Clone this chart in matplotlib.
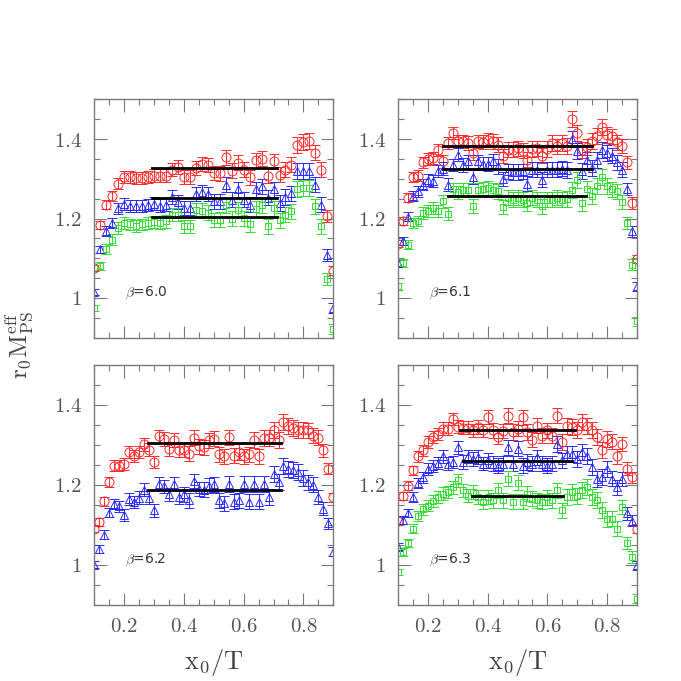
import matplotlib
matplotlib.use("Agg")
import matplotlib.pyplot as plt
from matplotlib.ticker import MultipleLocator, FixedLocator, FixedFormatter

plt.rcParams['mathtext.fontset'] = 'cm'
plt.rcParams['font.family'] = ['DejaVu Serif']

# ---------------- data ----------------
X41 = [0.10, 0.12, 0.14, 0.16, 0.18, 0.20, 0.22, 0.24, 0.26, 0.28,
       0.30, 0.32, 0.34, 0.36, 0.38, 0.40, 0.42, 0.44, 0.46, 0.48,
       0.50, 0.52, 0.54, 0.56, 0.58, 0.60, 0.62, 0.64, 0.66, 0.68,
       0.70, 0.72, 0.74, 0.76, 0.78, 0.80, 0.82, 0.84, 0.86, 0.88, 0.90]

X49 = [0.1000, 0.1167, 0.1333, 0.1500, 0.1667, 0.1833, 0.2000, 0.2167, 0.2333, 0.2500,
       0.2667, 0.2833, 0.3000, 0.3167, 0.3333, 0.3500, 0.3667, 0.3833, 0.4000, 0.4167,
       0.4333, 0.4500, 0.4667, 0.4833, 0.5000, 0.5167, 0.5333, 0.5500, 0.5667, 0.5833,
       0.6000, 0.6167, 0.6333, 0.6500, 0.6667, 0.6833, 0.7000, 0.7167, 0.7333, 0.7500,
       0.7667, 0.7833, 0.8000, 0.8167, 0.8333, 0.8500, 0.8667, 0.8833, 0.9000]

E41 = [0.008, 0.010, 0.012, 0.013, 0.014, 0.015, 0.015, 0.015, 0.015, 0.015,
       0.016, 0.016, 0.016, 0.017, 0.017, 0.017, 0.017, 0.018, 0.018, 0.018,
       0.018, 0.019, 0.019, 0.019, 0.019, 0.019, 0.019, 0.019, 0.019, 0.019,
       0.019, 0.019, 0.019, 0.019, 0.020, 0.020, 0.020, 0.019, 0.018, 0.015, 0.012]

E49 = [0.008, 0.010, 0.011, 0.012, 0.013, 0.014, 0.015, 0.015, 0.015, 0.016,
       0.016, 0.016, 0.016, 0.017, 0.017, 0.017, 0.017, 0.017, 0.018, 0.018,
       0.018, 0.018, 0.019, 0.019, 0.019, 0.019, 0.019, 0.019, 0.019, 0.019,
       0.019, 0.019, 0.019, 0.019, 0.020, 0.020, 0.020, 0.020, 0.020, 0.020,
       0.020, 0.020, 0.020, 0.019, 0.019, 0.018, 0.016, 0.014, 0.011]

# beta = 6.0
red_60 = [1.075, 1.184, 1.235, 1.257, 1.287, 1.304, 1.304, 1.302, 1.302, 1.304,
          1.308, 1.308, 1.308, 1.323, 1.330, 1.304, 1.304, 1.327, 1.338, 1.335,
          1.314, 1.314, 1.354, 1.320, 1.340, 1.323, 1.304, 1.346, 1.350, 1.308,
          1.344, 1.310, 1.323, 1.335, 1.386, 1.392, 1.394, 1.366, 1.323, 1.207, 1.069]
blue_60 = [1.015, 1.122, 1.169, 1.189, 1.226, 1.237, 1.232, 1.232, 1.232, 1.235,
           1.237, 1.232, 1.235, 1.254, 1.241, 1.226, 1.226, 1.262, 1.266, 1.262,
           1.243, 1.243, 1.285, 1.247, 1.273, 1.247, 1.235, 1.274, 1.281, 1.252,
           1.274, 1.239, 1.254, 1.264, 1.319, 1.320, 1.320, 1.285, 1.235, 1.109, 0.975]
green_60 = [0.975, 1.081, 1.123, 1.147, 1.176, 1.189, 1.185, 1.182, 1.185, 1.189,
            1.191, 1.189, 1.193, 1.210, 1.210, 1.180, 1.180, 1.222, 1.220, 1.215,
            1.197, 1.197, 1.233, 1.199, 1.222, 1.201, 1.185, 1.224, 1.233, 1.180,
            1.226, 1.195, 1.210, 1.218, 1.274, 1.276, 1.276, 1.231, 1.180, 1.048, 0.922]
fit_60 = [1.327, 1.251, 1.205]
fitx_60 = [0.292, 0.711]

# beta = 6.1
red_61 = [1.137, 1.193, 1.252, 1.304, 1.308, 1.341, 1.350, 1.352, 1.373, 1.344,
          1.390, 1.415, 1.394, 1.394, 1.390, 1.365, 1.394, 1.392, 1.398, 1.394,
          1.386, 1.358, 1.373, 1.373, 1.377, 1.371, 1.348, 1.375, 1.377, 1.358,
          1.375, 1.390, 1.382, 1.390, 1.382, 1.450, 1.415, 1.373, 1.380, 1.394,
          1.408, 1.430, 1.411, 1.407, 1.392, 1.383, 1.341, 1.239, 1.098]
blue_61 = [1.088, 1.143, 1.205, 1.256, 1.268, 1.285, 1.298, 1.294, 1.320, 1.325,
           1.285, 1.335, 1.361, 1.335, 1.344, 1.304, 1.344, 1.338, 1.338, 1.344,
           1.331, 1.299, 1.319, 1.317, 1.317, 1.319, 1.288, 1.323, 1.323, 1.298,
           1.323, 1.323, 1.323, 1.325, 1.323, 1.400, 1.369, 1.319, 1.348, 1.327,
           1.348, 1.373, 1.365, 1.358, 1.341, 1.323, 1.274, 1.168, 1.029]
green_61 = [1.029, 1.088, 1.134, 1.189, 1.193, 1.214, 1.218, 1.226, 1.220, 1.243,
            1.212, 1.274, 1.266, 1.272, 1.272, 1.232, 1.272, 1.274, 1.276, 1.272,
            1.268, 1.229, 1.252, 1.247, 1.252, 1.247, 1.239, 1.252, 1.247, 1.231,
            1.247, 1.247, 1.252, 1.247, 1.250, 1.272, 1.296, 1.239, 1.274, 1.256,
            1.281, 1.304, 1.281, 1.274, 1.268, 1.241, 1.189, 1.084, 0.941]
fit_61 = [1.382, 1.325, 1.257]
fitx_61 = [[0.249, 0.750], [0.249, 0.750], [0.267, 0.731]]

# beta = 6.2
red_62 = [1.090, 1.107, 1.159, 1.207, 1.248, 1.248, 1.253, 1.282, 1.271, 1.282,
          1.301, 1.288, 1.257, 1.321, 1.315, 1.290, 1.312, 1.286, 1.288, 1.278,
          1.318, 1.296, 1.294, 1.311, 1.315, 1.276, 1.271, 1.319, 1.273, 1.282,
          1.271, 1.276, 1.312, 1.271, 1.318, 1.318, 1.338, 1.312, 1.357, 1.348,
          1.343, 1.338, 1.336, 1.336, 1.323, 1.318, 1.286, 1.240, 1.169]
blue_62 = [1.000, 1.040, 1.075, 1.130, 1.151, 1.146, 1.123, 1.165, 1.158, 1.168,
           1.188, 1.168, 1.136, 1.203, 1.196, 1.176, 1.203, 1.169, 1.176, 1.161,
           1.209, 1.190, 1.188, 1.198, 1.201, 1.161, 1.154, 1.202, 1.157, 1.161,
           1.202, 1.157, 1.202, 1.157, 1.202, 1.169, 1.226, 1.207, 1.248, 1.240,
           1.236, 1.232, 1.218, 1.206, 1.200, 1.169, 1.140, 1.103, 1.032]
fit_62 = [1.305, 1.188]
fitx_62 = [0.281, 0.724]

# beta = 6.3
red_63 = [1.110, 1.171, 1.198, 1.236, 1.271, 1.286, 1.307, 1.319, 1.328, 1.340,
          1.340, 1.365, 1.345, 1.343, 1.343, 1.336, 1.345, 1.336, 1.369, 1.336,
          1.319, 1.334, 1.373, 1.332, 1.340, 1.369, 1.332, 1.313, 1.348, 1.323,
          1.336, 1.323, 1.373, 1.307, 1.348, 1.344, 1.336, 1.357, 1.346, 1.336,
          1.319, 1.286, 1.315, 1.308, 1.271, 1.302, 1.240, 1.219, 1.090]
blue_63 = [1.045, 1.111, 1.129, 1.169, 1.204, 1.219, 1.240, 1.248, 1.254, 1.271,
           1.253, 1.257, 1.294, 1.257, 1.271, 1.265, 1.269, 1.253, 1.261, 1.253,
           1.248, 1.253, 1.294, 1.253, 1.290, 1.248, 1.257, 1.253, 1.269, 1.253,
           1.248, 1.253, 1.302, 1.261, 1.278, 1.278, 1.265, 1.282, 1.271, 1.244,
           1.215, 1.219, 1.240, 1.215, 1.194, 1.215, 1.128, 1.110, 0.998]
green_63 = [0.982, 1.032, 1.054, 1.090, 1.121, 1.138, 1.148, 1.159, 1.169, 1.178,
            1.182, 1.194, 1.211, 1.186, 1.173, 1.182, 1.169, 1.157, 1.169, 1.161,
            1.186, 1.161, 1.215, 1.157, 1.205, 1.157, 1.178, 1.165, 1.161, 1.157,
            1.169, 1.161, 1.186, 1.136, 1.169, 1.182, 1.173, 1.186, 1.194, 1.169,
            1.161, 1.136, 1.115, 1.115, 1.090, 1.144, 1.054, 1.019, 0.915]
fit_63 = [1.336, 1.259, 1.173]
fitx_63 = [[0.307, 0.692], [0.318, 0.681], [0.346, 0.651]]

betas = ["6.0", "6.1", "6.2", "6.3"]
ytick_vals = [1.0, 1.2, 1.4]
ytick_labels = ["1", "1.2", "1.4"]
xtick_vals = [0.2, 0.4, 0.6, 0.8]
xtick_labels = ["0.2", "0.4", "0.6", "0.8"]

# ---------------- style ----------------
RED = '#ff2a2a'
BLUE = '#2a2aff'
GREEN = '#30dd30'
GRAY = '#7a7a7a'
styles = {
    'r': dict(color=RED, marker='o', ms=6.5),
    'b': dict(color=BLUE, marker='^', ms=5.8),
    'g': dict(color=GREEN, marker='s', ms=4.8),
}

W = 681
fig = plt.figure(figsize=(6.81, 6.81), dpi=100)
positions = [
    (94.3 / W, 1 - 337.7 / W, 239 / W, 238.4 / W),
    (398.3 / W, 1 - 337.7 / W, 238.5 / W, 238.4 / W),
    (94.3 / W, 1 - 604.5 / W, 239 / W, 239.5 / W),
    (398.3 / W, 1 - 604.5 / W, 238.5 / W, 239.5 / W),
]

panels = [
    (X41, E41, [('r', red_60), ('b', blue_60), ('g', green_60)], fit_60, [fitx_60] * 3),
    (X49, E49, [('r', red_61), ('b', blue_61), ('g', green_61)], fit_61, fitx_61),
    (X49, E49, [('r', red_62), ('b', blue_62)], fit_62, [fitx_62] * 2),
    (X49, E49, [('r', red_63), ('b', blue_63), ('g', green_63)], fit_63, fitx_63),
]

def cm(labels):
    return [r"$\mathrm{" + s + "}$" for s in labels]

for i, (pos, (xs, es, series, fits, fitxs)) in enumerate(zip(positions, panels)):
    ax = fig.add_axes(pos)
    for key, ys in series:
        st = styles[key]
        ax.errorbar(xs, ys, yerr=es, fmt=st['marker'], ms=st['ms'],
                    mfc='none', mec=st['color'], mew=0.7,
                    ecolor=st['color'], elinewidth=0.7, capsize=3.4,
                    capthick=0.7, clip_on=True, zorder=2)
    for fy, fx in zip(fits, fitxs):
        ax.plot(fx, [fy, fy], color='black', lw=2.0, zorder=3)
    ax.set_xlim(0.1, 0.9)
    ax.set_ylim(0.9, 1.5)
    ax.xaxis.set_major_locator(FixedLocator(xtick_vals))
    ax.xaxis.set_minor_locator(MultipleLocator(0.05))
    ax.yaxis.set_major_locator(FixedLocator(ytick_vals))
    ax.yaxis.set_minor_locator(MultipleLocator(0.05))
    ax.yaxis.set_major_formatter(FixedFormatter(cm(ytick_labels)))
    if i >= 2:
        ax.xaxis.set_major_formatter(FixedFormatter(cm(xtick_labels)))
    else:
        ax.set_xticklabels([])
    ax.tick_params(which='both', direction='in', top=True, right=True,
                   color=GRAY, width=0.8)
    ax.tick_params(which='major', length=9, labelsize=15, labelcolor='#555555', pad=9)
    ax.tick_params(which='minor', length=4.5)
    for sp in ax.spines.values():
        sp.set_color(GRAY)
        sp.set_linewidth(1.0)
    ax.text(0.203, 1.013, r"$\beta$=" + betas[i], fontsize=10, color='#333333',
            ha='left', va='center', family='DejaVu Sans')
    if i >= 2:
        ax.set_xlabel(r"$\mathrm{x_0/T}$", fontsize=19, color='#444444', labelpad=8)

fig.text(20 / W, 1 - 345 / W, r"$\mathrm{r_0M^{eff}_{PS}}$", rotation=90,
         fontsize=18, color='#444444', ha='center', va='center')

fig.savefig("out.png", dpi=100)
